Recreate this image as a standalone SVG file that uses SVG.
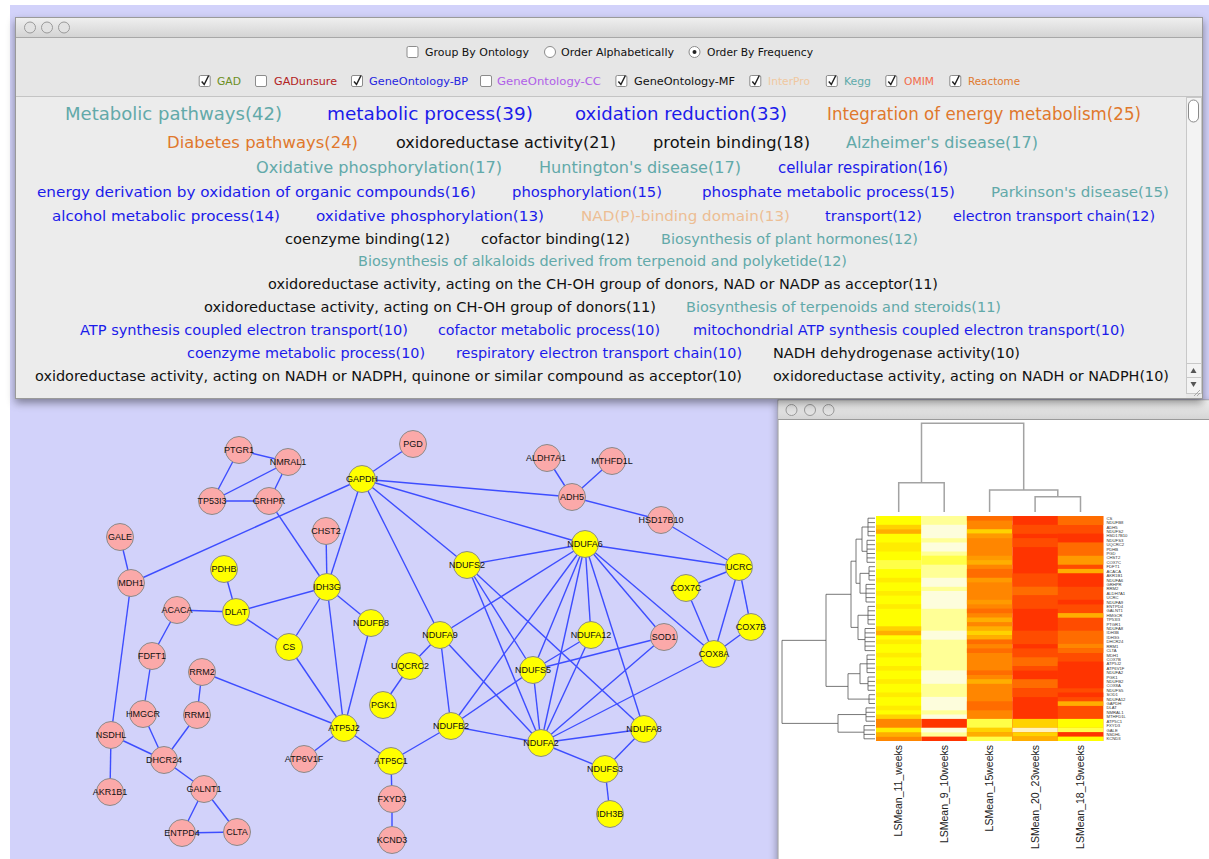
<svg xmlns="http://www.w3.org/2000/svg" width="1209" height="859" viewBox="0 0 1209 859">
<defs>
<style>
.wc{font-family:"DejaVu Sans","Liberation Sans",sans-serif}
.tb{font-family:"DejaVu Sans","Liberation Sans",sans-serif;font-size:11px;fill:#111}
.kg{fill:#62A9A9}.bp{fill:#1B1BEA}.rc{fill:#E0782C}.mf{fill:#111}.ip{fill:#EDBE94}
.e line{stroke:#3D4DFF;stroke-width:1.4}
.pk circle{fill:#FBA9A9;stroke:#8A8A8A;stroke-width:1}
.yl circle{fill:#FFFF00;stroke:#8A8A8A;stroke-width:1}
.node text{font-family:"Liberation Sans",Arial,sans-serif;font-size:9px;fill:#111;text-anchor:middle}
.Y{fill:#FFFF00}.y{fill:#FFEC00}.G{fill:#FFD200}.L{fill:#FFFF48}.P{fill:#FFFF96}.W{fill:#FDFDDC}.C{fill:#FFF2C0}
.A{fill:#FFAE00}.o{fill:#FF9A00}.O{fill:#FF8600}.R{fill:#FF6C00}.D{fill:#FF4C00}.X{fill:#FF3400}
.rl{font-family:"Liberation Sans",Arial,sans-serif;font-size:4.2px;fill:#333}
.cl{font-family:"Liberation Sans",Arial,sans-serif;font-size:10.5px;fill:#222;text-anchor:end}
</style>
<linearGradient id="tbar" x1="0" y1="0" x2="0" y2="1">
<stop offset="0" stop-color="#EFEFEF"/><stop offset="1" stop-color="#D4D4D4"/>
</linearGradient>
<filter id="ds" x="-3%" y="-3%" width="106%" height="112%">
<feDropShadow dx="0" dy="4" stdDeviation="4" flood-color="#000" flood-opacity="0.4"/>
</filter>
<g id="cb"><rect x="-5.5" y="-5.5" width="11" height="11" rx="1.5" fill="#fff" stroke="#8C8C8C"/></g>
<g id="cbk"><use href="#cb"/><path d="M-3,0.5 L-0.5,3.5 L4,-5.5" fill="none" stroke="#222" stroke-width="1.5"/></g>
<g id="rd"><circle r="5.5" fill="#fff" stroke="#8C8C8C"/></g>
<g id="rdk"><use href="#rd"/><circle r="2" fill="#222"/></g>
<g id="btn"><circle r="5.5" fill="#E2E2E2" stroke="#9A9A9A"/></g>
</defs>

<rect x="0" y="0" width="1209" height="859" fill="#FFFFFF"/>
<rect x="10" y="5" width="1199" height="854" fill="#D2D2FA"/>

<!-- network connectors -->
<g id="connectors" class="e">
<line x1="239" y1="450" x2="288" y2="462"/>
<line x1="239" y1="450" x2="212" y2="501"/>
<line x1="288" y1="462" x2="212" y2="501"/>
<line x1="288" y1="462" x2="269" y2="501"/>
<line x1="212" y1="501" x2="269" y2="501"/>
<line x1="269" y1="501" x2="327" y2="587"/>
<line x1="413" y1="444" x2="362" y2="479"/>
<line x1="362" y1="479" x2="131" y2="583"/>
<line x1="362" y1="479" x2="327" y2="587"/>
<line x1="362" y1="479" x2="572" y2="497"/>
<line x1="362" y1="479" x2="585" y2="544"/>
<line x1="362" y1="479" x2="467" y2="565"/>
<line x1="362" y1="479" x2="440" y2="635"/>
<line x1="547" y1="458" x2="572" y2="497"/>
<line x1="612" y1="461" x2="572" y2="497"/>
<line x1="572" y1="497" x2="661" y2="520"/>
<line x1="661" y1="520" x2="739" y2="567"/>
<line x1="120" y1="537" x2="131" y2="583"/>
<line x1="131" y1="583" x2="111" y2="735"/>
<line x1="326" y1="531" x2="327" y2="587"/>
<line x1="224" y1="569" x2="236" y2="612"/>
<line x1="177" y1="610" x2="236" y2="612"/>
<line x1="236" y1="612" x2="327" y2="587"/>
<line x1="236" y1="612" x2="289" y2="647"/>
<line x1="327" y1="587" x2="289" y2="647"/>
<line x1="327" y1="587" x2="371" y2="623"/>
<line x1="327" y1="587" x2="344" y2="728"/>
<line x1="371" y1="623" x2="344" y2="728"/>
<line x1="289" y1="647" x2="344" y2="728"/>
<line x1="177" y1="610" x2="152" y2="656"/>
<line x1="152" y1="656" x2="143" y2="714"/>
<line x1="143" y1="714" x2="164" y2="760"/>
<line x1="111" y1="735" x2="164" y2="760"/>
<line x1="111" y1="735" x2="110" y2="792"/>
<line x1="202" y1="672" x2="197" y2="715"/>
<line x1="197" y1="715" x2="164" y2="760"/>
<line x1="202" y1="672" x2="344" y2="728"/>
<line x1="164" y1="760" x2="204" y2="789"/>
<line x1="204" y1="789" x2="182" y2="833"/>
<line x1="204" y1="789" x2="237" y2="832"/>
<line x1="182" y1="833" x2="237" y2="832"/>
<line x1="344" y1="728" x2="304" y2="759"/>
<line x1="344" y1="728" x2="391" y2="761"/>
<line x1="391" y1="761" x2="451" y2="726"/>
<line x1="391" y1="761" x2="392" y2="799"/>
<line x1="392" y1="799" x2="392" y2="840"/>
<line x1="410" y1="666" x2="440" y2="635"/>
<line x1="410" y1="666" x2="383" y2="705"/>
<line x1="440" y1="635" x2="451" y2="726"/>
<line x1="440" y1="635" x2="541" y2="743"/>
<line x1="440" y1="635" x2="585" y2="544"/>
<line x1="467" y1="565" x2="585" y2="544"/>
<line x1="467" y1="565" x2="533" y2="670"/>
<line x1="467" y1="565" x2="541" y2="743"/>
<line x1="467" y1="565" x2="644" y2="729"/>
<line x1="585" y1="544" x2="451" y2="726"/>
<line x1="585" y1="544" x2="533" y2="670"/>
<line x1="585" y1="544" x2="541" y2="743"/>
<line x1="585" y1="544" x2="591" y2="635"/>
<line x1="585" y1="544" x2="644" y2="729"/>
<line x1="585" y1="544" x2="664" y2="637"/>
<line x1="585" y1="544" x2="714" y2="654"/>
<line x1="585" y1="544" x2="739" y2="567"/>
<line x1="591" y1="635" x2="541" y2="743"/>
<line x1="591" y1="635" x2="533" y2="670"/>
<line x1="664" y1="637" x2="533" y2="670"/>
<line x1="664" y1="637" x2="541" y2="743"/>
<line x1="714" y1="654" x2="541" y2="743"/>
<line x1="533" y1="670" x2="541" y2="743"/>
<line x1="533" y1="670" x2="451" y2="726"/>
<line x1="451" y1="726" x2="541" y2="743"/>
<line x1="644" y1="729" x2="541" y2="743"/>
<line x1="541" y1="743" x2="605" y2="769"/>
<line x1="644" y1="729" x2="605" y2="769"/>
<line x1="605" y1="769" x2="610" y2="814"/>
<line x1="739" y1="567" x2="686" y2="588"/>
<line x1="739" y1="567" x2="751" y2="627"/>
<line x1="739" y1="567" x2="714" y2="654"/>
<line x1="686" y1="588" x2="714" y2="654"/>
<line x1="714" y1="654" x2="751" y2="627"/>
</g>

<!-- network nodes -->
<g id="n-PTGR1" class="node pk"><circle cx="239" cy="450" r="13.5"/><text x="239" y="453.2">PTGR1</text></g>
<g id="n-NMRAL1" class="node pk"><circle cx="288" cy="462" r="13.5"/><text x="288" y="465.2">NMRAL1</text></g>
<g id="n-TP53I3" class="node pk"><circle cx="212" cy="501" r="13.5"/><text x="212" y="504.2">TP53I3</text></g>
<g id="n-GRHPR" class="node pk"><circle cx="269" cy="501" r="13.5"/><text x="269" y="504.2">GRHPR</text></g>
<g id="n-PGD" class="node pk"><circle cx="413" cy="444" r="13.5"/><text x="413" y="447.2">PGD</text></g>
<g id="n-GAPDH" class="node yl"><circle cx="362" cy="479" r="13.5"/><text x="362" y="482.2">GAPDH</text></g>
<g id="n-ALDH7A1" class="node pk"><circle cx="547" cy="458" r="13.5"/><text x="546" y="461.2">ALDH7A1</text></g>
<g id="n-MTHFD1L" class="node pk"><circle cx="612" cy="461" r="13.5"/><text x="612" y="464.2">MTHFD1L</text></g>
<g id="n-ADH5" class="node pk"><circle cx="572" cy="497" r="13.5"/><text x="572" y="500.2">ADH5</text></g>
<g id="n-HSD17B10" class="node pk"><circle cx="661" cy="520" r="13.5"/><text x="661" y="523.2">HSD17B10</text></g>
<g id="n-GALE" class="node pk"><circle cx="120" cy="537" r="13.5"/><text x="120" y="540.2">GALE</text></g>
<g id="n-MDH1" class="node pk"><circle cx="131" cy="583" r="13.5"/><text x="131" y="586.2">MDH1</text></g>
<g id="n-CHST2" class="node pk"><circle cx="326" cy="531" r="13.5"/><text x="326" y="534.2">CHST2</text></g>
<g id="n-PDHB" class="node yl"><circle cx="224" cy="569" r="13.5"/><text x="224" y="572.2">PDHB</text></g>
<g id="n-IDH3G" class="node yl"><circle cx="327" cy="587" r="13.5"/><text x="327" y="590.2">IDH3G</text></g>
<g id="n-DLAT" class="node yl"><circle cx="236" cy="612" r="13.5"/><text x="236" y="615.2">DLAT</text></g>
<g id="n-ACACA" class="node pk"><circle cx="177" cy="610" r="13.5"/><text x="177" y="613.2">ACACA</text></g>
<g id="n-NDUFB8" class="node yl"><circle cx="371" cy="623" r="13.5"/><text x="371" y="626.2">NDUFB8</text></g>
<g id="n-NDUFS2" class="node yl"><circle cx="467" cy="565" r="13.5"/><text x="467" y="568.2">NDUFS2</text></g>
<g id="n-NDUFA6" class="node yl"><circle cx="585" cy="544" r="13.5"/><text x="585" y="547.2">NDUFA6</text></g>
<g id="n-UCRC" class="node yl"><circle cx="739" cy="567" r="13.5"/><text x="739" y="570.2">UCRC</text></g>
<g id="n-COX7C" class="node yl"><circle cx="686" cy="588" r="13.5"/><text x="686" y="591.2">COX7C</text></g>
<g id="n-COX7B" class="node yl"><circle cx="751" cy="627" r="13.5"/><text x="751" y="630.2">COX7B</text></g>
<g id="n-COX8A" class="node yl"><circle cx="714" cy="654" r="13.5"/><text x="714" y="657.2">COX8A</text></g>
<g id="n-NDUFA9" class="node yl"><circle cx="440" cy="635" r="13.5"/><text x="440" y="638.2">NDUFA9</text></g>
<g id="n-NDUFA12" class="node yl"><circle cx="591" cy="635" r="13.5"/><text x="591" y="638.2">NDUFA12</text></g>
<g id="n-SOD1" class="node pk"><circle cx="664" cy="637" r="13.5"/><text x="664" y="640.2">SOD1</text></g>
<g id="n-NDUFS5" class="node yl"><circle cx="533" cy="670" r="13.5"/><text x="533" y="673.2">NDUFS5</text></g>
<g id="n-UQCRC2" class="node yl"><circle cx="410" cy="666" r="13.5"/><text x="410" y="669.2">UQCRC2</text></g>
<g id="n-PGK1" class="node yl"><circle cx="383" cy="705" r="13.5"/><text x="383" y="708.2">PGK1</text></g>
<g id="n-CS" class="node yl"><circle cx="289" cy="647" r="13.5"/><text x="289" y="650.2">CS</text></g>
<g id="n-FDFT1" class="node pk"><circle cx="152" cy="656" r="13.5"/><text x="152" y="659.2">FDFT1</text></g>
<g id="n-RRM2" class="node pk"><circle cx="202" cy="672" r="13.5"/><text x="202" y="675.2">RRM2</text></g>
<g id="n-HMGCR" class="node pk"><circle cx="143" cy="714" r="13.5"/><text x="143" y="717.2">HMGCR</text></g>
<g id="n-RRM1" class="node pk"><circle cx="197" cy="715" r="13.5"/><text x="197" y="718.2">RRM1</text></g>
<g id="n-NSDHL" class="node pk"><circle cx="111" cy="735" r="13.5"/><text x="111" y="738.2">NSDHL</text></g>
<g id="n-DHCR24" class="node pk"><circle cx="164" cy="760" r="13.5"/><text x="164" y="763.2">DHCR24</text></g>
<g id="n-AKR1B1" class="node pk"><circle cx="110" cy="792" r="13.5"/><text x="110" y="795.2">AKR1B1</text></g>
<g id="n-GALNT1" class="node pk"><circle cx="204" cy="789" r="13.5"/><text x="204" y="792.2">GALNT1</text></g>
<g id="n-ENTPD4" class="node pk"><circle cx="182" cy="833" r="13.5"/><text x="182" y="836.2">ENTPD4</text></g>
<g id="n-CLTA" class="node pk"><circle cx="237" cy="832" r="13.5"/><text x="237" y="835.2">CLTA</text></g>
<g id="n-ATP5J2" class="node yl"><circle cx="344" cy="728" r="13.5"/><text x="344" y="731.2">ATP5J2</text></g>
<g id="n-ATP6V1F" class="node pk"><circle cx="304" cy="759" r="13.5"/><text x="304" y="762.2">ATP6V1F</text></g>
<g id="n-ATP5C1" class="node yl"><circle cx="391" cy="761" r="13.5"/><text x="391" y="764.2">ATP5C1</text></g>
<g id="n-FXYD3" class="node pk"><circle cx="392" cy="799" r="13.5"/><text x="392" y="802.2">FXYD3</text></g>
<g id="n-KCND3" class="node pk"><circle cx="392" cy="840" r="13.5"/><text x="392" y="843.2">KCND3</text></g>
<g id="n-NDUFB2" class="node yl"><circle cx="451" cy="726" r="13.5"/><text x="451" y="729.2">NDUFB2</text></g>
<g id="n-NDUFA2" class="node yl"><circle cx="541" cy="743" r="13.5"/><text x="541" y="746.2">NDUFA2</text></g>
<g id="n-NDUFA8" class="node yl"><circle cx="644" cy="729" r="13.5"/><text x="644" y="732.2">NDUFA8</text></g>
<g id="n-NDUFS3" class="node yl"><circle cx="605" cy="769" r="13.5"/><text x="605" y="772.2">NDUFS3</text></g>
<g id="n-IDH3B" class="node yl"><circle cx="610" cy="814" r="13.5"/><text x="610" y="817.2">IDH3B</text></g>

<!-- heatmap window -->
<g id="heatmap-window">
<rect x="778" y="400" width="440" height="470" fill="#FFFFFF" stroke="#9A9A9A" filter="url(#ds)"/>
<rect x="778.5" y="400.5" width="440" height="19" fill="url(#tbar)"/>
<line x1="778" y1="419.5" x2="1209" y2="419.5" stroke="#9A9A9A"/>
<use href="#btn" x="791.5" y="410"/><use href="#btn" x="810" y="410"/><use href="#btn" x="828.5" y="410"/>

<g id="heatmap-cells">
<rect x="876" y="516" width="45.5" height="225" class="Y"/>
<rect x="876" y="524.8" width="45.5" height="4.6" class="G"/>
<rect x="876" y="529.2" width="45.5" height="4.6" class="A"/>
<rect x="876" y="542.5" width="45.5" height="9.0" class="y"/>
<rect x="876" y="560.1" width="45.5" height="9.0" class="L"/>
<rect x="876" y="577.8" width="45.5" height="4.6" class="y"/>
<rect x="876" y="591.0" width="45.5" height="4.6" class="y"/>
<rect x="876" y="604.2" width="45.5" height="4.6" class="y"/>
<rect x="876" y="626.3" width="45.5" height="4.6" class="G"/>
<rect x="876" y="630.7" width="45.5" height="4.6" class="A"/>
<rect x="876" y="639.5" width="45.5" height="4.6" class="y"/>
<rect x="876" y="652.8" width="45.5" height="4.6" class="y"/>
<rect x="876" y="666.0" width="45.5" height="4.6" class="y"/>
<rect x="876" y="679.2" width="45.5" height="4.6" class="y"/>
<rect x="876" y="692.5" width="45.5" height="4.6" class="y"/>
<rect x="876" y="705.7" width="45.5" height="4.6" class="y"/>
<rect x="876" y="714.5" width="45.5" height="4.6" class="G"/>
<rect x="876" y="718.9" width="45.5" height="9.0" class="O"/>
<rect x="876" y="727.8" width="45.5" height="4.6" class="y"/>
<rect x="876" y="732.2" width="45.5" height="4.6" class="A"/>
<rect x="876" y="736.6" width="45.5" height="4.4" class="O"/>

<rect x="921.4" y="516" width="45.6" height="225" class="P"/>
<rect x="921.4" y="524.8" width="45.6" height="13.4" class="W"/>
<rect x="921.4" y="542.5" width="45.6" height="9.0" class="W"/>
<rect x="921.4" y="555.7" width="45.6" height="9.0" class="L"/>
<rect x="921.4" y="577.8" width="45.6" height="9.0" class="W"/>
<rect x="921.4" y="591.0" width="45.6" height="17.8" class="W"/>
<rect x="921.4" y="630.7" width="45.6" height="9.0" class="W"/>
<rect x="921.4" y="670.4" width="45.6" height="13.4" class="W"/>
<rect x="921.4" y="696.9" width="45.6" height="13.4" class="W"/>
<rect x="921.4" y="714.5" width="45.6" height="4.6" class="W"/>
<rect x="921.4" y="718.9" width="45.6" height="9.0" class="X"/>
<rect x="921.4" y="727.8" width="45.6" height="4.6" class="W"/>
<rect x="921.4" y="736.6" width="45.6" height="4.4" class="X"/>

<rect x="966.9" y="516" width="45.6" height="225" class="O"/>
<rect x="966.9" y="516" width="45.6" height="4.6" class="R"/>
<rect x="966.9" y="529.2" width="45.6" height="4.6" class="G"/>
<rect x="966.9" y="533.6" width="45.6" height="4.6" class="o"/>
<rect x="966.9" y="555.7" width="45.6" height="4.6" class="o"/>
<rect x="966.9" y="560.1" width="45.6" height="4.6" class="A"/>
<rect x="966.9" y="568.9" width="45.6" height="9.0" class="R"/>
<rect x="966.9" y="577.8" width="45.6" height="4.6" class="o"/>
<rect x="966.9" y="599.8" width="45.6" height="4.6" class="o"/>
<rect x="966.9" y="608.6" width="45.6" height="4.6" class="R"/>
<rect x="966.9" y="617.5" width="45.6" height="4.6" class="A"/>
<rect x="966.9" y="626.3" width="45.6" height="4.6" class="A"/>
<rect x="966.9" y="630.7" width="45.6" height="4.6" class="G"/>
<rect x="966.9" y="635.1" width="45.6" height="4.6" class="A"/>
<rect x="966.9" y="639.5" width="45.6" height="4.6" class="R"/>
<rect x="966.9" y="648.4" width="45.6" height="4.6" class="R"/>
<rect x="966.9" y="670.4" width="45.6" height="4.6" class="R"/>
<rect x="966.9" y="679.2" width="45.6" height="4.6" class="A"/>
<rect x="966.9" y="701.3" width="45.6" height="9.0" class="R"/>
<rect x="966.9" y="718.9" width="45.6" height="9.0" class="L"/>
<rect x="966.9" y="727.8" width="45.6" height="4.6" class="G"/>
<rect x="966.9" y="732.2" width="45.6" height="4.6" class="A"/>
<rect x="966.9" y="736.6" width="45.6" height="4.4" class="L"/>

<rect x="1012.4" y="516" width="45.6" height="225" class="X"/>
<rect x="1012.4" y="524.8" width="45.6" height="9.0" class="D"/>
<rect x="1012.4" y="538.1" width="45.6" height="9.0" class="D"/>
<rect x="1012.4" y="573.4" width="45.6" height="13.4" class="D"/>
<rect x="1012.4" y="586.6" width="45.6" height="9.0" class="R"/>
<rect x="1012.4" y="595.4" width="45.6" height="13.4" class="D"/>
<rect x="1012.4" y="630.7" width="45.6" height="13.4" class="D"/>
<rect x="1012.4" y="648.4" width="45.6" height="9.0" class="D"/>
<rect x="1012.4" y="657.2" width="45.6" height="9.0" class="R"/>
<rect x="1012.4" y="666.0" width="45.6" height="4.6" class="D"/>
<rect x="1012.4" y="679.2" width="45.6" height="9.0" class="R"/>
<rect x="1012.4" y="688.1" width="45.6" height="9.0" class="D"/>
<rect x="1012.4" y="718.9" width="45.6" height="9.0" class="G"/>
<rect x="1012.4" y="727.8" width="45.6" height="4.6" class="C"/>
<rect x="1012.4" y="732.2" width="45.6" height="4.6" class="G"/>
<rect x="1012.4" y="736.6" width="45.6" height="4.4" class="A"/>

<rect x="1057.8" y="516" width="45.5" height="225" class="D"/>
<rect x="1057.8" y="516" width="45.5" height="9.0" class="R"/>
<rect x="1057.8" y="533.6" width="45.5" height="9.0" class="X"/>
<rect x="1057.8" y="542.5" width="45.5" height="13.4" class="R"/>
<rect x="1057.8" y="555.7" width="45.5" height="9.0" class="o"/>
<rect x="1057.8" y="568.9" width="45.5" height="4.6" class="A"/>
<rect x="1057.8" y="573.4" width="45.5" height="13.4" class="X"/>
<rect x="1057.8" y="599.8" width="45.5" height="4.6" class="X"/>
<rect x="1057.8" y="613.1" width="45.5" height="4.6" class="A"/>
<rect x="1057.8" y="630.7" width="45.5" height="13.4" class="R"/>
<rect x="1057.8" y="643.9" width="45.5" height="4.6" class="O"/>
<rect x="1057.8" y="648.4" width="45.5" height="4.6" class="R"/>
<rect x="1057.8" y="661.6" width="45.5" height="26.7" class="X"/>
<rect x="1057.8" y="692.5" width="45.5" height="4.6" class="X"/>
<rect x="1057.8" y="701.3" width="45.5" height="4.6" class="A"/>
<rect x="1057.8" y="718.9" width="45.5" height="9.0" class="Y"/>
<rect x="1057.8" y="727.8" width="45.5" height="4.6" class="L"/>
<rect x="1057.8" y="732.2" width="45.5" height="4.6" class="X"/>
<rect x="1057.8" y="736.6" width="45.5" height="4.4" class="Y"/>
</g>

<g id="col-dendrogram" fill="none" stroke="#A3A3A3" stroke-width="1.5">
<path d="M898.7 512V482.7H944.2V512"/>
<path d="M921.5 482.7V423.3H1023.7V490"/>
<path d="M989.6 512V490H1057.8V496.7"/>
<path d="M1035.1 512V496.7H1080.5V512"/>
</g>

<g id="row-dendrogram" fill="none" stroke="#555" stroke-width="0.8">
<path d="M868 518.2V535.8M868 518.2H875M868 522.6H875M868 527H875M868 531.4H875M868 535.8H875"/>
<path d="M867 540.3V562.3M867 540.3H875M867 544.7H875M867 549.1H875M867 553.5H875M867 557.9H875M867 562.3H875"/>
<path d="M869 566.7V580M869 566.7H875M869 571.1H875M869 575.6H875M869 580H875"/>
<path d="M866 584.4V602M866 584.4H875M866 588.8H875M866 593.2H875M866 597.6H875M866 602H875"/>
<path d="M868 606.4V624.1M868 606.4H875M868 610.8H875M868 615.3H875M868 619.7H875M868 624.1H875"/>
<path d="M865 628.5V650.6M865 628.5H875M865 632.9H875M865 637.3H875M865 641.7H875M865 646.1H875M865 650.6H875"/>
<path d="M867 655V672.6M867 655H875M867 659.4H875M867 663.8H875M867 668.2H875M867 672.6H875"/>
<path d="M868 677V690.3M868 677H875M868 681.4H875M868 685.8H875M868 690.3H875"/>
<path d="M869 694.7V703.5M869 694.7H875M869 699.1H875M869 703.5H875"/>
<path d="M866 707.9V721.2M866 707.9H875M866 712.3H875M866 716.7H875M866 721.2H875"/>
<path d="M864 725.6V738.8M864 725.6H875M864 730H875M864 734.4H875M864 738.8H875"/>
<path d="M868 527H862V551.3H867"/>
<path d="M869 573.35H860V593.2H866"/>
<path d="M862 539.15H856V583.3H860"/>
<path d="M868 615.25H858V639.55H865"/>
<path d="M856 561.2H851V627.4H858"/>
<path d="M867 663.8H860V683.65H868"/>
<path d="M860 673.7H848V699.1H869"/>
<path d="M851 594.3H826V686.4H848"/>
<path d="M866 714.55H838V732.2H864"/>
<path d="M826 640.35H782V723.4H838"/>
</g>

<g id="row-labels" class="rl">
<text x="1106.5" y="519.7">CS</text><text x="1106.5" y="524.1">NDUFB8</text><text x="1106.5" y="528.5">ADH5</text><text x="1106.5" y="532.9">NDUFS2</text><text x="1106.5" y="537.3">HSD17B10</text><text x="1106.5" y="541.8">NDUFS3</text><text x="1106.5" y="546.2">UQCRC2</text><text x="1106.5" y="550.6">PDHB</text><text x="1106.5" y="555">PGD</text><text x="1106.5" y="559.4">CHST2</text><text x="1106.5" y="563.8">COX7C</text><text x="1106.5" y="568.2">FDFT1</text><text x="1106.5" y="572.6">ACACA</text><text x="1106.5" y="577.1">AKR1B1</text><text x="1106.5" y="581.5">NDUFA6</text><text x="1106.5" y="585.9">GRHPR</text><text x="1106.5" y="590.3">RRM2</text><text x="1106.5" y="594.7">ALDH7A1</text><text x="1106.5" y="599.1">UCRC</text><text x="1106.5" y="603.5">NDUFA9</text><text x="1106.5" y="607.9">ENTPD4</text><text x="1106.5" y="612.3">GALNT1</text><text x="1106.5" y="616.8">HMGCR</text><text x="1106.5" y="621.2">TP53I3</text><text x="1106.5" y="625.6">PTGR1</text><text x="1106.5" y="630">NDUFA8</text><text x="1106.5" y="634.4">IDH3B</text><text x="1106.5" y="638.8">IDH3G</text><text x="1106.5" y="643.2">DHCR24</text><text x="1106.5" y="647.6">RRM1</text><text x="1106.5" y="652.1">CLTA</text><text x="1106.5" y="656.5">MDH1</text><text x="1106.5" y="660.9">COX7B</text><text x="1106.5" y="665.3">ATP5J2</text><text x="1106.5" y="669.7">ATP6V1F</text><text x="1106.5" y="674.1">NDUFA2</text><text x="1106.5" y="678.5">PGK1</text><text x="1106.5" y="682.9">NDUFB2</text><text x="1106.5" y="687.3">COX8A</text><text x="1106.5" y="691.8">NDUFS5</text><text x="1106.5" y="696.2">SOD1</text><text x="1106.5" y="700.6">NDUFA12</text><text x="1106.5" y="705">GAPDH</text><text x="1106.5" y="709.4">DLAT</text><text x="1106.5" y="713.8">NMRAL1</text><text x="1106.5" y="718.2">MTHFD1L</text><text x="1106.5" y="722.6">ATP5C1</text><text x="1106.5" y="727.1">FXYD3</text><text x="1106.5" y="731.5">GALE</text><text x="1106.5" y="735.9">NSDHL</text><text x="1106.5" y="740.3">KCND3</text>
</g>

<g id="col-labels" class="cl">
<text transform="translate(902.3,745) rotate(-90)">LSMean_11_weeks</text>
<text transform="translate(947.8,745) rotate(-90)">LSMean_9_10weeks</text>
<text transform="translate(993.2,745) rotate(-90)">LSMean_15weeks</text>
<text transform="translate(1038.7,745) rotate(-90)">LSMean_20_23weeks</text>
<text transform="translate(1084.1,745) rotate(-90)">LSMean_18_19weeks</text>
</g>
</g>

<!-- top window -->
<g id="cloud-window">
<rect x="15.5" y="17.5" width="1187" height="381" fill="#E8E8E8" stroke="#9A9A9A" filter="url(#ds)"/>
<rect x="16" y="18" width="1186" height="19" fill="url(#tbar)"/>
<line x1="16" y1="37.5" x2="1202" y2="37.5" stroke="#A8A8A8"/>
<use href="#btn" x="30" y="27.5"/><use href="#btn" x="47" y="27.5"/><use href="#btn" x="64" y="27.5"/>
<rect x="16" y="38" width="1186" height="58" fill="#E6E6E6"/>
<line x1="16" y1="96.5" x2="1202" y2="96.5" stroke="#C4C4C4"/>
<rect x="16" y="97" width="1170" height="301" fill="#ECECEC"/>

<g id="toolbar">
<use href="#cb" x="412.5" y="52"/>
<text class="tb" x="425" y="56" textLength="104" lengthAdjust="spacingAndGlyphs">Group By Ontology</text>
<use href="#rd" x="550" y="52"/>
<text class="tb" x="561" y="56" textLength="113" lengthAdjust="spacingAndGlyphs">Order Alphabetically</text>
<use href="#rdk" x="694.5" y="52"/>
<text class="tb" x="707" y="56" textLength="106" lengthAdjust="spacingAndGlyphs">Order By Frequency</text>

<use href="#cbk" x="204.7" y="81"/>
<text class="tb" x="217" y="85" textLength="24" lengthAdjust="spacingAndGlyphs" style="fill:#6B8E23">GAD</text>
<use href="#cb" x="261" y="81"/>
<text class="tb" x="274" y="85" textLength="63" lengthAdjust="spacingAndGlyphs" style="fill:#B22222">GADunsure</text>
<use href="#cbk" x="357" y="81"/>
<text class="tb" x="369" y="85" textLength="99" lengthAdjust="spacingAndGlyphs" style="fill:#2525E0">GeneOntology-BP</text>
<use href="#cb" x="486" y="81"/>
<text class="tb" x="497" y="85" textLength="104" lengthAdjust="spacingAndGlyphs" style="fill:#B060E8">GeneOntology-CC</text>
<use href="#cbk" x="621.4" y="81"/>
<text class="tb" x="634" y="85" textLength="101" lengthAdjust="spacingAndGlyphs">GeneOntology-MF</text>
<use href="#cbk" x="755.3" y="81"/>
<text class="tb" x="768" y="85" textLength="42" lengthAdjust="spacingAndGlyphs" style="fill:#F0C8A0">InterPro</text>
<use href="#cbk" x="831.8" y="81"/>
<text class="tb" x="844" y="85" textLength="27" lengthAdjust="spacingAndGlyphs" style="fill:#5FAAAA">Kegg</text>
<use href="#cbk" x="891.3" y="81"/>
<text class="tb" x="904" y="85" textLength="30" lengthAdjust="spacingAndGlyphs" style="fill:#F26B4B">OMIM</text>
<use href="#cbk" x="955.3" y="81"/>
<text class="tb" x="968" y="85" textLength="52" lengthAdjust="spacingAndGlyphs" style="fill:#E07A30">Reactome</text>
</g>

<g id="word-cloud" class="wc">
<text class="kg" x="65" y="119.5" font-size="18" textLength="217" lengthAdjust="spacingAndGlyphs">Metabolic pathways(42)</text>
<text class="bp" x="327" y="119.5" font-size="18" textLength="206" lengthAdjust="spacingAndGlyphs">metabolic process(39)</text>
<text class="bp" x="575" y="119.5" font-size="18" textLength="212" lengthAdjust="spacingAndGlyphs">oxidation reduction(33)</text>
<text class="rc" x="827" y="119.5" font-size="18" textLength="314" lengthAdjust="spacingAndGlyphs">Integration of energy metabolism(25)</text>

<text class="rc" x="167" y="148" font-size="16.5" textLength="191" lengthAdjust="spacingAndGlyphs">Diabetes pathways(24)</text>
<text class="mf" x="396" y="148" font-size="15.5" textLength="220" lengthAdjust="spacingAndGlyphs">oxidoreductase activity(21)</text>
<text class="mf" x="653" y="148" font-size="15.5" textLength="157" lengthAdjust="spacingAndGlyphs">protein binding(18)</text>
<text class="kg" x="846" y="148" font-size="15.5" textLength="192" lengthAdjust="spacingAndGlyphs">Alzheimer's disease(17)</text>

<text class="kg" x="256" y="172.5" font-size="15" textLength="246" lengthAdjust="spacingAndGlyphs">Oxidative phosphorylation(17)</text>
<text class="kg" x="539" y="172.5" font-size="15" textLength="202" lengthAdjust="spacingAndGlyphs">Huntington's disease(17)</text>
<text class="bp" x="778" y="172.5" font-size="15" textLength="170" lengthAdjust="spacingAndGlyphs">cellular respiration(16)</text>

<text class="bp" x="37" y="196.5" font-size="14.5" textLength="439" lengthAdjust="spacingAndGlyphs">energy derivation by oxidation of organic compounds(16)</text>
<text class="bp" x="512" y="196.5" font-size="14.5" textLength="150" lengthAdjust="spacingAndGlyphs">phosphorylation(15)</text>
<text class="bp" x="702" y="196.5" font-size="14.5" textLength="253" lengthAdjust="spacingAndGlyphs">phosphate metabolic process(15)</text>
<text class="kg" x="991" y="196.5" font-size="14.5" textLength="178" lengthAdjust="spacingAndGlyphs">Parkinson's disease(15)</text>

<text class="bp" x="52" y="220.5" font-size="14.5" textLength="228" lengthAdjust="spacingAndGlyphs">alcohol metabolic process(14)</text>
<text class="bp" x="316" y="220.5" font-size="14.5" textLength="228" lengthAdjust="spacingAndGlyphs">oxidative phosphorylation(13)</text>
<text class="ip" x="581" y="220.5" font-size="14.5" textLength="209" lengthAdjust="spacingAndGlyphs">NAD(P)-binding domain(13)</text>
<text class="bp" x="825" y="220.5" font-size="14.5" textLength="97" lengthAdjust="spacingAndGlyphs">transport(12)</text>
<text class="bp" x="953" y="220.5" font-size="14.5" textLength="202" lengthAdjust="spacingAndGlyphs">electron transport chain(12)</text>

<text class="mf" x="285" y="244" font-size="14" textLength="165" lengthAdjust="spacingAndGlyphs">coenzyme binding(12)</text>
<text class="mf" x="481" y="244" font-size="14" textLength="149" lengthAdjust="spacingAndGlyphs">cofactor binding(12)</text>
<text class="kg" x="661" y="244" font-size="14" textLength="257" lengthAdjust="spacingAndGlyphs">Biosynthesis of plant hormones(12)</text>

<text class="kg" x="358" y="266" font-size="14" textLength="489" lengthAdjust="spacingAndGlyphs">Biosynthesis of alkaloids derived from terpenoid and polyketide(12)</text>

<text class="mf" x="268" y="289" font-size="13.5" textLength="670" lengthAdjust="spacingAndGlyphs">oxidoreductase activity, acting on the CH-OH group of donors, NAD or NADP as acceptor(11)</text>

<text class="mf" x="204" y="312" font-size="13.5" textLength="452" lengthAdjust="spacingAndGlyphs">oxidoreductase activity, acting on CH-OH group of donors(11)</text>
<text class="kg" x="686" y="312" font-size="13.5" textLength="315" lengthAdjust="spacingAndGlyphs">Biosynthesis of terpenoids and steroids(11)</text>

<text class="bp" x="80" y="335" font-size="13.5" textLength="328" lengthAdjust="spacingAndGlyphs">ATP synthesis coupled electron transport(10)</text>
<text class="bp" x="438" y="335" font-size="13.5" textLength="222" lengthAdjust="spacingAndGlyphs">cofactor metabolic process(10)</text>
<text class="bp" x="693" y="335" font-size="13.5" textLength="432" lengthAdjust="spacingAndGlyphs">mitochondrial ATP synthesis coupled electron transport(10)</text>

<text class="bp" x="187" y="358" font-size="13.5" textLength="238" lengthAdjust="spacingAndGlyphs">coenzyme metabolic process(10)</text>
<text class="bp" x="456" y="358" font-size="13.5" textLength="286" lengthAdjust="spacingAndGlyphs">respiratory electron transport chain(10)</text>
<text class="mf" x="773" y="358" font-size="13.5" textLength="247" lengthAdjust="spacingAndGlyphs">NADH dehydrogenase activity(10)</text>

<text class="mf" x="35" y="381" font-size="13.5" textLength="707" lengthAdjust="spacingAndGlyphs">oxidoreductase activity, acting on NADH or NADPH, quinone or similar compound as acceptor(10)</text>
<text class="mf" x="773" y="381" font-size="13.5" textLength="396" lengthAdjust="spacingAndGlyphs">oxidoreductase activity, acting on NADH or NADPH(10)</text>
</g>

<g id="scrollbar">
<rect x="1186.5" y="97.5" width="15" height="296" fill="#F3F3F3" stroke="#C8C8C8"/>
<rect x="1188.5" y="100" width="10" height="22" rx="5" fill="#FFFFFF" stroke="#8A8A8A"/>
<line x1="1187" y1="363.5" x2="1201" y2="363.5" stroke="#C8C8C8"/>
<line x1="1187" y1="377.5" x2="1201" y2="377.5" stroke="#C8C8C8"/>
<path d="M1190.5 373L1193.5 368L1196.5 373Z" fill="#555"/>
<path d="M1190.5 382L1193.5 387L1196.5 382Z" fill="#555"/>
<path d="M1194 396L1200 390M1197 396L1200 393" stroke="#999" stroke-width="0.8"/>
</g>
</g>
</svg>
